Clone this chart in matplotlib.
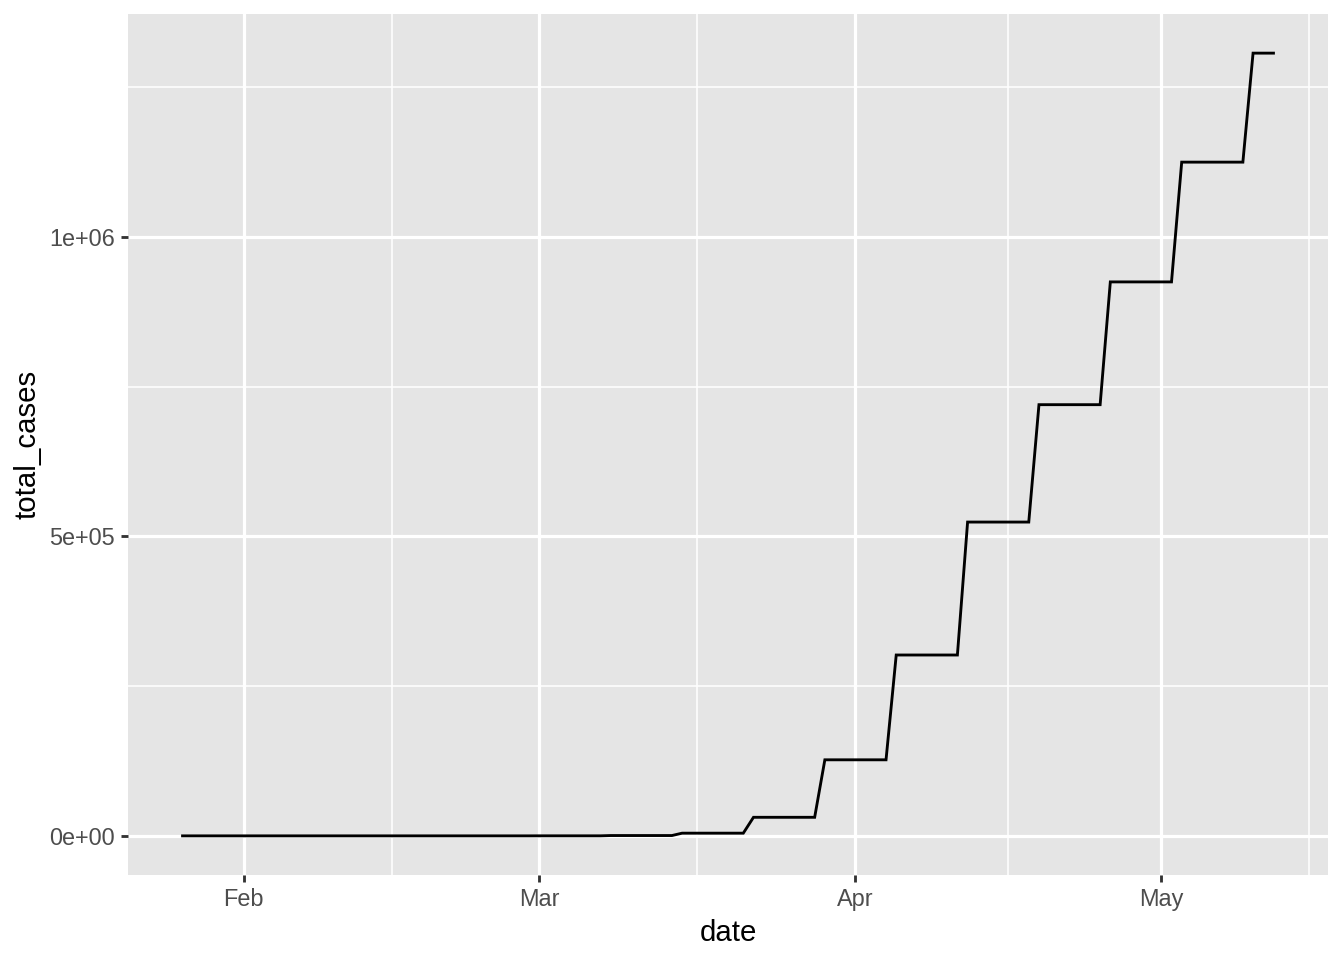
import matplotlib
matplotlib.use('Agg')
import matplotlib.pyplot as plt
import matplotlib.dates as mdates
from matplotlib.ticker import FixedLocator
import numpy as np
import pandas as pd

# weekly totals (reported on Sundays)
week_start = ['2020-01-26', '2020-02-02', '2020-02-09', '2020-02-16', '2020-02-23',
              '2020-03-01', '2020-03-08', '2020-03-15', '2020-03-22', '2020-03-29',
              '2020-04-05', '2020-04-12', '2020-04-19', '2020-04-26', '2020-05-03',
              '2020-05-10']
week_total = [5, 8, 11, 15, 15, 70, 550, 4500, 31000, 127000,
              302000, 524000, 720000, 925000, 1125000, 1307000]
last_day = '2020-05-12'

y_breaks = [0, 5e5, 1e6]
y_labels = ['0e+00', '5e+05', '1e+06']
x_breaks = ['2020-02-01', '2020-03-01', '2020-04-01', '2020-05-01']
x_labels = ['Feb', 'Mar', 'Apr', 'May']


def main():
    dates = pd.date_range(week_start[0], last_day, freq='D')
    starts = pd.to_datetime(week_start)
    idx = np.searchsorted(starts.values, dates.values, side='right') - 1
    total = np.array(week_total, dtype=float)[idx]

    plt.rcParams['font.family'] = ['Liberation Sans', 'DejaVu Sans']
    fig = plt.figure(figsize=(7, 5), dpi=192)
    ax = fig.add_axes([128 / 1344, 1 - 875 / 960, (1328 - 128) / 1344, (875 - 14) / 960])
    ax.set_facecolor('#E5E5E5')
    ax.plot(dates, total, color='black', lw=1.07, solid_joinstyle='miter', zorder=3)

    # ggplot-like expansion of 5%
    xnum = mdates.date2num(dates)
    xr = xnum[-1] - xnum[0]
    ax.set_xlim(xnum[0] - 0.05 * xr, xnum[-1] + 0.05 * xr)
    yr = total.max() - total.min()
    ax.set_ylim(total.min() - 0.05 * yr, total.max() + 0.05 * yr)

    xb = mdates.date2num(pd.to_datetime(x_breaks))
    bd = xb[1] - xb[0]
    ext = np.concatenate([[xb[0] - bd], xb, [xb[-1] + bd]])
    xminor = (ext[:-1] + ext[1:]) / 2
    ax.xaxis.set_major_locator(FixedLocator(xb))
    ax.xaxis.set_minor_locator(FixedLocator(xminor))
    ax.set_xticklabels(x_labels)
    ax.yaxis.set_major_locator(FixedLocator(y_breaks))
    ystep = y_breaks[1] - y_breaks[0]
    ax.yaxis.set_minor_locator(FixedLocator(np.arange(-ystep / 2, 1.5e6, ystep)))
    ax.set_yticklabels(y_labels)

    ax.grid(which='major', color='white', lw=1.2)
    ax.grid(which='minor', color='white', lw=0.6)
    ax.set_axisbelow(True)
    for s in ax.spines.values():
        s.set_visible(False)
    ax.tick_params(which='major', length=2.75, width=1.07, color='#333333',
                   labelcolor='#4D4D4D', labelsize=8.8, pad=2.2)
    ax.tick_params(which='minor', length=0)

    ax.set_xlabel('date', fontsize=11, labelpad=2.75)
    ax.set_ylabel('total_cases', fontsize=11, labelpad=2.75)

    fig.savefig('out.png', dpi=192, facecolor='white')
    return


if __name__ == '__main__':
    main()
